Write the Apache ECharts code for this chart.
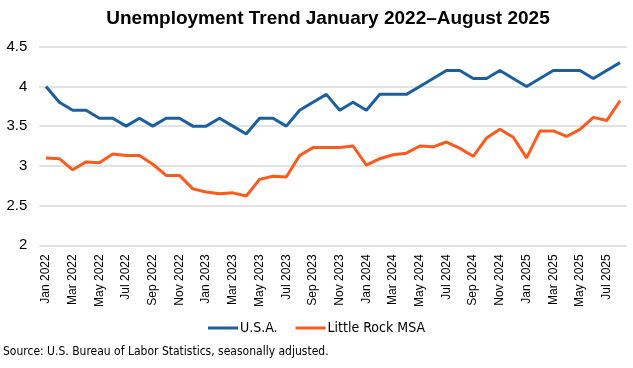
<!DOCTYPE html>
<html><head><meta charset="utf-8">
<script src="https://cdn.jsdelivr.net/npm/echarts@6/dist/echarts.min.js"></script>
<style>html,body{margin:0;padding:0;background:#fff}#c{width:633px;height:368px}</style>
</head><body><div id="c"></div>
<script>
const months = ["Jan","Feb","Mar","Apr","May","Jun","Jul","Aug","Sep","Oct","Nov","Dec"];
const categories = [];
for (let y = 2022; y <= 2025; y++) for (let m = 0; m < 12; m++) { if (y === 2025 && m > 7) break; categories.push(months[m] + " " + y); }
const usa = [4.0,3.8,3.7,3.7,3.6,3.6,3.5,3.6,3.5,3.6,3.6,3.5,
  3.5,3.6,3.5,3.4,3.6,3.6,3.5,3.7,3.8,3.9,3.7,3.8,
  3.7,3.9,3.9,3.9,4.0,4.1,4.2,4.2,4.1,4.1,4.2,4.1,
  4.0,4.1,4.2,4.2,4.2,4.1,4.2,4.3];
const littleRock = [3.10,3.09,2.95,3.05,3.04,3.15,3.13,3.13,3.02,2.88,2.88,2.71,
  2.67,2.65,2.66,2.62,2.83,2.87,2.86,3.13,3.23,3.23,3.23,3.25,
  3.01,3.09,3.14,3.16,3.25,3.24,3.30,3.22,3.12,3.35,3.46,3.36,
  3.10,3.44,3.44,3.37,3.46,3.61,3.57,3.82];
const yTicks = {min: 2, max: 4.5, interval: 0.5};
const narrow = '"DejaVu Sans Condensed", Roboto, sans-serif';
const chart = echarts.init(document.getElementById('c'));
chart.setOption({
  animation: false,
  title: {text: 'Unemployment Trend January 2022\u2013August 2025', left: 323, textAlign: 'center', top: 4,
    textStyle: {fontFamily: 'Liberation Sans', fontWeight: 'bold', fontSize: 19, color: '#000'}},
  grid: {left: 39.3, right: 6.3, top: 46.7, bottom: 122.7, containLabel: false},
  legend: {bottom: 28, left: 'center', itemWidth: 30, itemHeight: 3, icon: 'rect', itemGap: 18,
    textStyle: {fontFamily: narrow, fontSize: 14, color: '#000', padding: [0,0,0,-3]},
    data: ['U.S.A.', 'Little Rock MSA']},
  xAxis: {type: 'category', data: categories, boundaryGap: true,
    axisLine: {show: false}, axisTick: {show: false},
    axisLabel: {interval: 1, rotate: 90, fontFamily: 'Liberation Sans', fontSize: 12, color: '#000', margin: 9}},
  yAxis: {type: 'value', min: yTicks.min, max: yTicks.max, interval: yTicks.interval,
    axisLabel: {fontFamily: 'Liberation Sans', fontSize: 15, color: '#000', margin: 12, formatter: v => String(v)},
    splitLine: {lineStyle: {color: '#d9d9d9', width: 1.5}}},
  series: [
    {name: 'U.S.A.', type: 'line', data: usa, symbol: 'none', lineStyle: {color: '#1c5f9f', width: 3}, itemStyle: {color: '#1c5f9f'}},
    {name: 'Little Rock MSA', type: 'line', data: littleRock, symbol: 'none', lineStyle: {color: '#fe5a1d', width: 3}, itemStyle: {color: '#fe5a1d'}}
  ],
  graphic: [{type: 'text', left: 3, top: 346, style: {text: 'Source: U.S. Bureau of Labor Statistics, seasonally adjusted.',
    fontFamily: narrow, fontSize: 12, fill: '#000'}}]
});
</script></body></html>
